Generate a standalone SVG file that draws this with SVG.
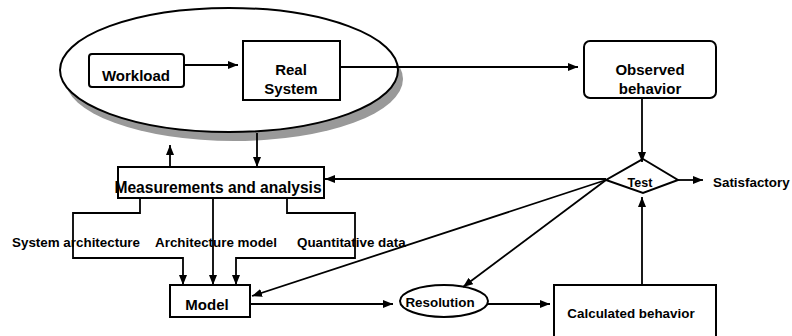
<svg xmlns="http://www.w3.org/2000/svg" width="792" height="336" viewBox="0 0 792 336">
<style>
text{font-family:"Liberation Sans",Arial,sans-serif;font-weight:bold;fill:#000}
.b{font-size:15px}
.l{font-size:13.4px}
.box{fill:#fff;stroke:#000;stroke-width:2}
.c{fill:none;stroke:#000;stroke-width:1.8}
</style>
<defs>
<marker id="ah" viewBox="0 0 10 8" refX="10" refY="4" markerWidth="10" markerHeight="8" markerUnits="userSpaceOnUse" orient="auto">
<path d="M0,0 L10,4 L0,8 Z" fill="#000"/>
</marker>
</defs>
<rect width="792" height="336" fill="#fff"/>
<g id="system-ellipse">
<ellipse cx="234" cy="79" rx="169" ry="62" fill="#999"/>
<ellipse cx="229" cy="70" rx="169" ry="62" class="box"/>
</g>
<g id="workload">
<rect x="89" y="54" width="95" height="33" rx="3" class="box"/>
<text x="136" y="81" text-anchor="middle" class="b">Workload</text>
</g>
<g id="real-system">
<rect x="243" y="41" width="97" height="59" class="box"/>
<text x="291" y="75" text-anchor="middle" class="b">Real</text>
<text x="291" y="94" text-anchor="middle" class="b">System</text>
</g>
<g id="observed">
<rect x="584" y="41" width="132" height="57" rx="6" class="box"/>
<text x="650" y="75" text-anchor="middle" class="b">Observed</text>
<text x="650" y="94" text-anchor="middle" class="b">behavior</text>
</g>
<g id="test">
<polygon points="643,159 678,180 643,193 606,180" class="box"/>
<text x="640" y="187" text-anchor="middle" style="font-size:12.5px">Test</text>
</g>
<g id="satisfactory">
<text x="713" y="187" class="l">Satisfactory</text>
</g>
<g id="measurements">
<rect x="118" y="167" width="206" height="31" class="box"/>
<text x="218" y="193" text-anchor="middle" style="font-size:15.6px">Measurements and analysis</text>
</g>
<g id="labels">
<text x="12" y="247" class="l">System architecture</text>
<text x="155" y="247" class="l">Architecture model</text>
<text x="297" y="247" class="l">Quantitative data</text>
</g>
<g id="model">
<rect x="170" y="285" width="80" height="32" class="box"/>
<text x="207" y="310" text-anchor="middle" class="b">Model</text>
</g>
<g id="resolution">
<ellipse cx="444" cy="301" rx="44" ry="16" class="box"/>
<text x="440" y="307" text-anchor="middle" class="l">Resolution</text>
</g>
<g id="calculated">
<rect x="554" y="285" width="162" height="55" class="box"/>
<text x="631" y="318" text-anchor="middle" class="l">Calculated behavior</text>
</g>
<g id="connectors" class="c">
<path d="M184,65 H238" marker-end="url(#ah)"/>
<path d="M340,67 H578" marker-end="url(#ah)"/>
<path d="M642,98 V162" marker-end="url(#ah)"/>
<path d="M678,180 H703" marker-end="url(#ah)"/>
<path d="M606,179 H325" marker-end="url(#ah)"/>
<path d="M170,167 V145" marker-end="url(#ah)"/>
<path d="M257,133 V167" marker-end="url(#ah)"/>
<path d="M140,198 V213 H73 V258 H183 V285" marker-end="url(#ah)"/>
<path d="M213,198 V285" marker-end="url(#ah)"/>
<path d="M287,198 V213 H355 V258 H236 V285" marker-end="url(#ah)"/>
<path d="M606,180 L252,296" marker-end="url(#ah)"/>
<path d="M606,180 L463,287" marker-end="url(#ah)"/>
<path d="M250,304 H393" marker-end="url(#ah)"/>
<path d="M488,304 H550" marker-end="url(#ah)"/>
<path d="M642,285 V197" marker-end="url(#ah)"/>
</g>
</svg>
